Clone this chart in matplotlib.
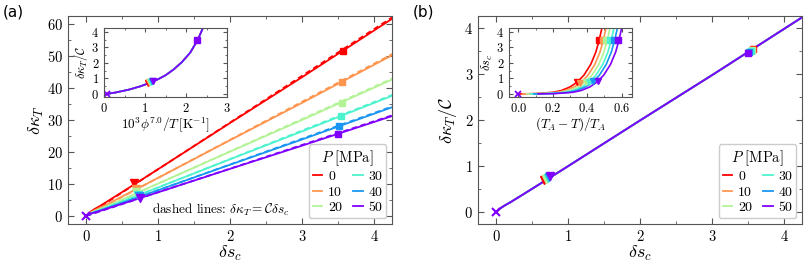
import numpy as np
import matplotlib
matplotlib.use('Agg')
import matplotlib.pyplot as plt
from matplotlib.ticker import MultipleLocator

plt.rcParams['font.family'] = 'cmr10'
plt.rcParams['mathtext.fontset'] = 'cm'
plt.rcParams['axes.formatter.use_mathtext'] = True
plt.rcParams['axes.edgecolor'] = '#555555'
plt.rcParams['xtick.color'] = '#555555'
plt.rcParams['ytick.color'] = '#555555'
plt.rcParams['xtick.labelcolor'] = 'black'
plt.rcParams['ytick.labelcolor'] = 'black'

# pressures and colours
pressures = [0, 10, 20, 30, 40, 50]
colors = [plt.cm.rainbow(1 - i / 5) for i in range(6)]

# slope C for each pressure (panel a)
C_vals = [14.6, 11.9, 10.1, 8.9, 8.05, 7.4]

# master curve dk_T/C vs ds_c (panel b)
ds_c = [0.0, 0.03, 0.07, 0.12, 0.2, 0.5, 1.0, 2.0, 3.0, 4.3]
dk_over_C = [0.0, 0.05, 0.1, 0.15, 0.22, 0.51, 1.0, 1.99, 2.97, 4.27]

# marker positions (ds_c) for each pressure
tri_x = [0.67, 0.69, 0.70, 0.72, 0.73, 0.75]
tri_y = [0.70, 0.72, 0.73, 0.75, 0.76, 0.78]
sq_x = [3.57, 3.56, 3.55, 3.54, 3.52, 3.50]
sq_y = [3.53, 3.52, 3.51, 3.50, 3.48, 3.46]

# inset (a): dk_T/C vs 10^3 phi^7 / T
inA_x = [0.08, 0.3, 0.6, 0.9, 1.1, 1.3, 1.5, 1.7, 1.9, 2.1, 2.28, 2.38, 2.45]
inA_y = [0.0, 0.1, 0.27, 0.5, 0.7, 0.92, 1.2, 1.58, 2.05, 2.65, 3.45, 4.05, 4.5]
inA_tri = [1.08, 1.10, 1.12, 1.14, 1.17, 1.20]
inA_sq_x = 2.28
inA_sq_y = 3.45

# inset (b): ds_c vs (T_A - T)/T_A for P = 0 MPa, shifted for other P
inB_x = [0.0, 0.1, 0.2, 0.25, 0.3, 0.34, 0.38, 0.42, 0.45, 0.47, 0.49]
inB_y = [0.0, 0.02, 0.1, 0.22, 0.45, 0.75, 1.2, 1.9, 2.7, 3.5, 4.5]
inB_shift = [0.0, 0.024, 0.047, 0.07, 0.09, 0.115]
inB_tri = [0.34, 0.36, 0.39, 0.41, 0.435, 0.46]
inB_sq = [0.47, 0.49, 0.51, 0.535, 0.555, 0.58]

fig = plt.figure(figsize=(8.1, 2.7), dpi=100)
axA = fig.add_axes([68 / 810, 46 / 270, 324 / 810, 208 / 270])
axB = fig.add_axes([478 / 810, 46 / 270, 324 / 810, 208 / 270])


def style(ax, xmaj, xmin, ymaj, ymin, size=10.5):
    ax.xaxis.set_major_locator(MultipleLocator(xmaj))
    ax.xaxis.set_minor_locator(MultipleLocator(xmin))
    ax.yaxis.set_major_locator(MultipleLocator(ymaj))
    ax.yaxis.set_minor_locator(MultipleLocator(ymin))
    ax.tick_params(which='both', direction='in', top=True, right=True, labelsize=size)
    ax.tick_params(which='major', length=4)
    ax.tick_params(which='minor', length=2)


def legend(ax):
    ax.legend(title=r'$P\ [\mathrm{MPa}]$', ncol=2, loc='lower right', fontsize=10,
              title_fontsize=10.5, handlelength=0.7, columnspacing=0.8, handletextpad=0.4,
              labelspacing=0.2, borderpad=0.3, borderaxespad=0.4, fancybox=True,
              framealpha=1, edgecolor='#cccccc')


xs = np.array(ds_c)
ys = np.array(dk_over_C)

# panel (a)
for i, P in enumerate(pressures):
    C = C_vals[i]
    axA.plot(xs, C * ys, color=colors[i], lw=1.3, label=str(P))
    axA.plot(xs, C * xs, color=colors[i], lw=1.3, ls=(0, (3, 2)))
for i in range(6):
    axA.plot(tri_x[i], C_vals[i] * tri_y[i], marker='v', color=colors[i], ms=6, ls='none')
    axA.plot(sq_x[i], C_vals[i] * sq_y[i], marker='s', color=colors[i], ms=5, ls='none')
axA.plot(0, 0, marker='x', color=colors[5], ms=6, mew=1.5, ls='none')
axA.set_xlim(-0.25, 4.25)
axA.set_ylim(-2.5, 62.5)
style(axA, 1, 0.5, 10, 5)
axA.set_xlabel(r'$\delta s_c$', fontsize=13, labelpad=0)
axA.set_ylabel(r'$\delta\kappa_T$', fontsize=13, labelpad=1)
axA.text(0.92, 2.0, r'dashed lines: $\delta\kappa_T = \mathcal{C}\delta s_c$', fontsize=9.5, va='center')
legend(axA)

# panel (b)
for i in range(6):
    axB.plot(xs, ys, color=colors[i], lw=1.3, label=str(pressures[i]))
for i in range(6):
    axB.plot(tri_x[i], tri_y[i], marker='v', color=colors[i], ms=6, ls='none')
for i in range(6):
    axB.plot(sq_x[i], sq_y[i], marker='s', color=colors[i], ms=5, ls='none')
axB.plot(0, 0, marker='x', color=colors[5], ms=6, mew=1.5, ls='none')
axB.set_xlim(-0.25, 4.25)
axB.set_ylim(-0.25, 4.25)
style(axB, 1, 0.5, 1, 0.5)
axB.set_xlabel(r'$\delta s_c$', fontsize=13, labelpad=0)
axB.set_ylabel(r'$\delta\kappa_T/\mathcal{C}$', fontsize=13, labelpad=4)
legend(axB)

# inset (a)
inA = fig.add_axes([104 / 810, 173 / 270, 123 / 810, 69 / 270])
for i in range(6):
    inA.plot(inA_x, inA_y, color=colors[i], lw=1.2)
for i in range(6):
    yv = np.interp(inA_tri[i], inA_x, inA_y) + 0.05
    inA.plot(inA_tri[i], yv, marker='v', color=colors[i], ms=5, ls='none')
inA.plot(inA_sq_x, inA_sq_y, marker='s', color=colors[5], ms=4.5, ls='none')
inA.plot(0.08, 0, marker='x', color=colors[5], ms=5, mew=1.3, ls='none')
inA.set_xlim(0, 3)
inA.set_ylim(-0.2, 4.25)
style(inA, 1, 0.5, 1, 0.5, size=9)
inA.tick_params(which='major', length=3)
inA.tick_params(which='minor', length=1.5)
inA.set_xlabel(r'$10^3\phi^{7.0}/T\,[\mathrm{K}^{-1}]$', fontsize=9.5, labelpad=0)
inA.set_ylabel(r'$\delta\kappa_T/\mathcal{C}$', fontsize=9, labelpad=1)

# inset (b)
inB = fig.add_axes([509 / 810, 173 / 270, 123 / 810, 69 / 270])
bx = np.array(inB_x)
for i in range(6):
    inB.plot(bx + inB_shift[i], inB_y, color=colors[i], lw=1.2)
for i in range(6):
    yv = np.interp(inB_tri[i] - inB_shift[i], bx, inB_y)
    inB.plot(inB_tri[i], yv, marker='v', color=colors[i], ms=5, ls='none')
    inB.plot(inB_sq[i], 3.5, marker='s', color=colors[i], ms=4.5, ls='none')
inB.plot(0, 0, marker='x', color=colors[5], ms=5, mew=1.3, ls='none')
inB.set_xlim(-0.055, 0.66)
inB.set_ylim(-0.2, 4.25)
style(inB, 0.2, 0.1, 1, 0.5, size=9)
inB.tick_params(which='major', length=3)
inB.tick_params(which='minor', length=1.5)
inB.set_xlabel(r'$(T_A - T)/T_A$', fontsize=9.5, labelpad=0)
inB.set_ylabel(r'$\delta s_c$', fontsize=9, labelpad=1)

fig.text(3 / 810, 1 - 12 / 270, '(a)', fontsize=11, family='DejaVu Sans', va='center')
fig.text(413 / 810, 1 - 12 / 270, '(b)', fontsize=11, family='DejaVu Sans', va='center')

fig.savefig('out.png', dpi=100)
